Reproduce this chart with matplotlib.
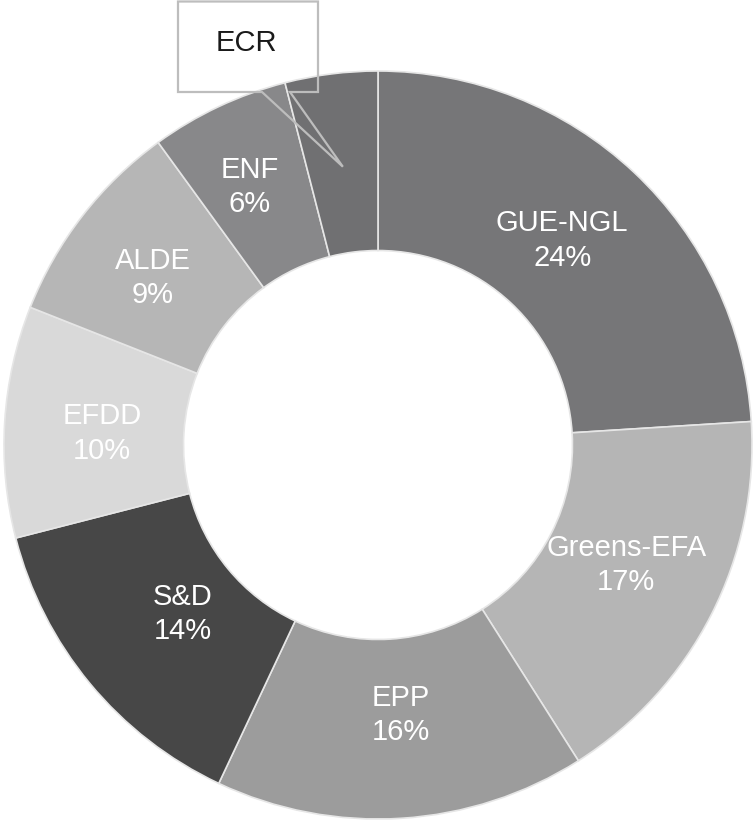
import matplotlib.pyplot as plt
import numpy as np
from matplotlib.patches import Polygon

groups = ["GUE-NGL", "Greens-EFA", "EPP", "S&D", "EFDD", "ALDE", "ENF", "ECR"]
shares = [24, 17, 16, 14, 10, 9, 6, 4]
colors = ["#767678", "#b5b5b5", "#9c9c9c", "#474747", "#d9d9d9", "#b6b6b6", "#88888a", "#707072"]
# how far out each label sits (fraction of outer radius)
label_r = [0.736, 0.737, 0.725, 0.69, 0.738, 0.749, 0.77, None]

plt.rcParams['font.family'] = ['Liberation Sans', 'DejaVu Sans']

W, H = 756, 824
cx, cy, R = 378, 445, 374  # pixel centre / radius of the ring

fig = plt.figure(figsize=(W / 100, H / 100), dpi=100)
ax = fig.add_axes([0, 0, 1, 1])

wedges, _ = ax.pie(shares, colors=colors, startangle=90, counterclock=False,
                   radius=1.0, wedgeprops=dict(width=0.48, edgecolor='#e6e6e6', linewidth=1.2))

ax.set_xlim(-cx / R, (W - cx) / R)
ax.set_ylim(-(H - cy) / R, cy / R)
ax.set_aspect('equal')
ax.axis('off')

for w, name, s, r in zip(wedges, groups, shares, label_r):
    if r is None:
        continue
    mid = np.deg2rad((w.theta1 + w.theta2) / 2 + 1.2)
    ax.text(r * np.cos(mid), r * np.sin(mid), "%s\n%d%%" % (name, s),
            ha='center', va='center', color='white', fontsize=21, linespacing=1.28)

# callout for the small ECR slice
ecr = wedges[-1]
mid = np.deg2rad((ecr.theta1 + ecr.theta2) / 2)
tip = (0.75 * np.cos(mid), 0.75 * np.sin(mid))
left, right = (178 - cx) / R, (318 - cx) / R
bottom, top = (cy - 92) / R, (cy - 1.5) / R
b1, b2 = (262 - cx) / R, (290 - cx) / R
callout = Polygon([(left, bottom), (b1, bottom), tip, (b2, bottom), (right, bottom),
                   (right, top), (left, top)], closed=True, fill=False,
                  edgecolor='#bdbdbd', linewidth=1.6)
ax.add_patch(callout)
ax.text((left + right) / 2 - 0.005, (cy - 43) / R, groups[-1],
        ha='center', va='center', color='#1a1a1a', fontsize=21)

plt.savefig("out.png", dpi=100)
